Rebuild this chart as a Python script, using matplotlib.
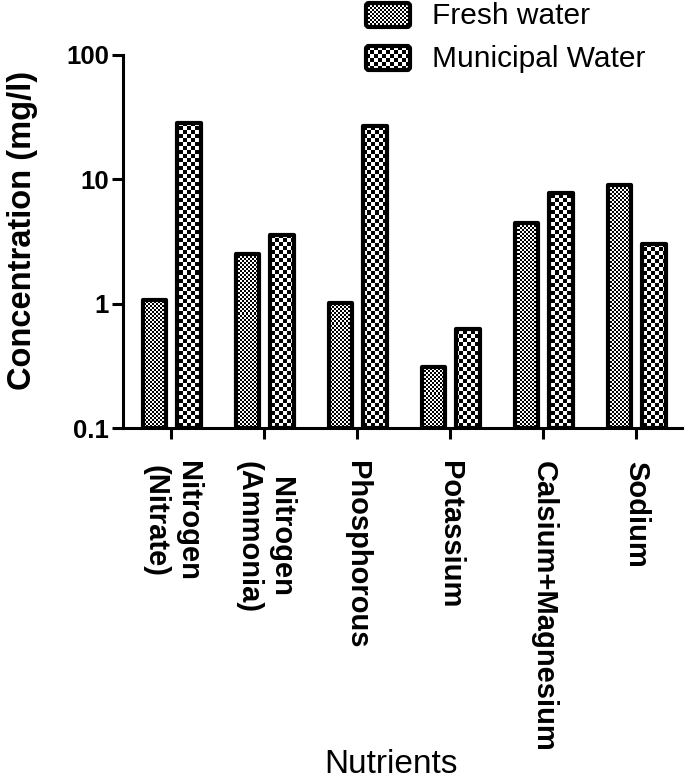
import numpy as np
import matplotlib
matplotlib.use('Agg')
import matplotlib.pyplot as plt
from matplotlib.patches import FancyBboxPatch
from matplotlib.ticker import FixedLocator, NullLocator, FuncFormatter

plt.rcParams['font.family'] = ['Liberation Sans', 'DejaVu Sans']

# data (mg/l, log scale)
nutrients = ['Nitrogen\n(Nitrate)', 'Nitrogen\n(Ammonia)', 'Phosphorous',
             'Potassium', 'Calsium+Magnesium', 'Sodium']
fresh_water = [1.07, 2.52, 1.02, 0.31, 4.45, 9.0]
municipal_water = [28.4, 3.58, 27.0, 0.63, 7.8, 3.0]
series_names = ['Fresh water', 'Municipal Water']

W, H = 685, 779


def checker(h, w, cell):
    yy, xx = np.mgrid[0:h, 0:w]
    return ((yy // cell + xx // cell) % 2).astype(float)


fig = plt.figure(figsize=(W / 100, H / 100), dpi=100)
ax_l, ax_r, ax_t, ax_b = 123, 682, 55, 428
ax = fig.add_axes([ax_l / W, 1 - ax_b / H, (ax_r - ax_l) / W, (ax_b - ax_t) / H])
ax.set_yscale('log')
ax.set_autoscale_on(False)
ax.set_xlim(-0.52, 5.49)
ax.set_ylim(0.1, 100)

x = np.arange(len(nutrients))
width = 0.25
base = 0.1
cells = [2, 4]
offsets = [-0.185, 0.19]
pw, ph = ax_r - ax_l, ax_b - ax_t
for vals, off, cell in zip([fresh_water, municipal_water], offsets, cells):
    bars = ax.bar(x + off, np.array(vals) - base, width, bottom=base,
                  facecolor='none', edgecolor='black', linewidth=3, zorder=3)
    pattern = checker(ph, pw, cell)
    for b in bars:
        b.set_joinstyle('round')
        im = ax.imshow(pattern, extent=(0, 1, 0, 1), transform=ax.transAxes,
                       cmap='gray', vmin=0, vmax=1, interpolation='nearest',
                       aspect='auto', zorder=2)
        im.set_clip_path(b)

ax.set_xlim(-0.52, 5.49)
ax.set_ylim(0.1, 100)

for s in ['top', 'right']:
    ax.spines[s].set_visible(False)
for s in ['left', 'bottom']:
    ax.spines[s].set_linewidth(2.2)

ax.yaxis.set_major_locator(FixedLocator([0.1, 1, 10, 100]))
ax.yaxis.set_minor_locator(NullLocator())
ax.yaxis.set_major_formatter(FuncFormatter(lambda v, p: '%g' % v))
ax.tick_params(axis='y', direction='out', length=8, width=2.2, pad=2,
               labelsize=18.5)
for t in ax.get_yticklabels():
    t.set_fontweight('bold')

ax.set_xticks(x)
ax.set_xticklabels(nutrients, rotation=-90, ha='center', va='top',
                   fontsize=21, fontweight='bold')
ax.tick_params(axis='x', direction='out', length=8, width=2.2, pad=16)

ax.set_ylabel('Concentration (mg/l)', fontsize=23.5, fontweight='bold')
ax.yaxis.set_label_coords(-0.152, 0.53)
ax.set_xlabel('Nutrients', fontsize=24)
ax.xaxis.set_label_coords(0.479, -0.86)

# legend drawn by hand so the handles carry the same checker fills
lg = fig.add_axes([0, 0, 1, 1])
lg.set_xlim(0, W)
lg.set_ylim(H, 0)
lg.axis('off')
lg.set_autoscale_on(False)
for i, (name, cell) in enumerate(zip(series_names, cells)):
    y0 = 3 + i * 43
    box = FancyBboxPatch((366, y0), 44, 24,
                         boxstyle='round,pad=0,rounding_size=3',
                         facecolor='none', edgecolor='black', linewidth=3,
                         zorder=3)
    lg.add_patch(box)
    im = lg.imshow(checker(24, 44, cell), extent=(366, 410, y0 + 24, y0),
                   cmap='gray', vmin=0, vmax=1, interpolation='nearest',
                   aspect='auto', zorder=2)
    im.set_clip_path(box)
    lg.text(432, y0 + 13, name, va='center', ha='left', fontsize=21.5)
lg.set_xlim(0, W)
lg.set_ylim(H, 0)

fig.savefig('out.png', dpi=100)
